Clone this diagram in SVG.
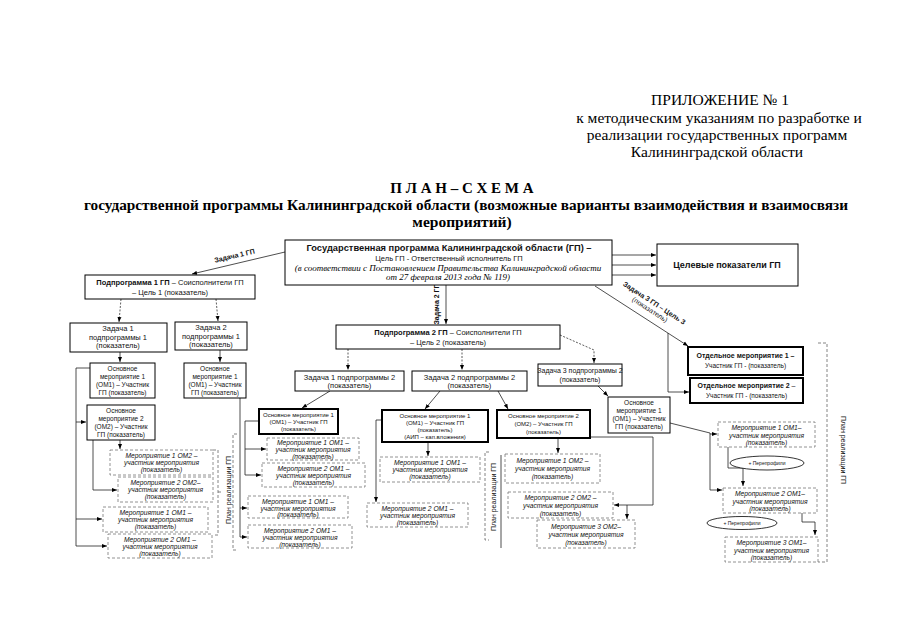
<svg xmlns="http://www.w3.org/2000/svg" width="905" height="640" viewBox="0 0 905 640">
<defs>
<marker id="a" viewBox="0 0 10 10" refX="10" refY="5" markerWidth="5" markerHeight="5" markerUnits="userSpaceOnUse" orient="auto"><path d="M0,1 L10,5 L0,9 z" fill="#000"/></marker>
<style>
.b{fill:#fff;stroke:#000;stroke-width:1}
.bt{fill:#fff;stroke:#000;stroke-width:2}
.bd{fill:#fff;stroke:#777;stroke-width:0.8;stroke-dasharray:3 2}
.s{font-family:"Liberation Sans",Arial,sans-serif;fill:#111;text-anchor:middle}
.f6{font-size:6px}
.f65{font-size:6.5px}
.f7{font-size:7px}
.f75{font-size:7.5px}
.it{font-style:italic;font-size:6.7px}
.bo{font-weight:bold}
.sr{font-family:"Liberation Serif","Times New Roman",serif;fill:#000;text-anchor:middle}
.c{fill:none;stroke:#222;stroke-width:0.8}
.cd{fill:none;stroke:#333;stroke-width:0.8;stroke-dasharray:2 1.5}
.br{fill:none;stroke:#666;stroke-width:0.8;stroke-dasharray:3 2}
</style>
</defs>
<rect width="905" height="640" fill="#fff"/>

<g id="header" class="sr" font-size="15.5">
<text x="720" y="105">ПРИЛОЖЕНИЕ № 1</text>
<text x="719" y="123">к методическим указаниям по разработке и</text>
<text x="717" y="140">реализации государственных программ</text>
<text x="717" y="157">Калининградской области</text>
</g>
<g id="title" class="sr" font-weight="bold">
<text x="462" y="193" font-size="15">П Л А Н – С Х Е М А</text>
<text x="466" y="210" font-size="15.5" textLength="764" lengthAdjust="spacingAndGlyphs">государственной программы Калининградской области (возможные варианты взаимодействия и взаимосвязи</text>
<text x="462" y="227" font-size="15.5">мероприятий)</text>
</g>

<g id="connectors">
<line class="c" x1="285" y1="252" x2="192" y2="274" marker-end="url(#a)"/>
<text class="s f7 bo" transform="translate(235,258) rotate(-13)">Задача 1 ГП</text>
<line class="c" x1="612" y1="255" x2="656" y2="255" marker-end="url(#a)"/>
<line class="c" x1="612" y1="265" x2="656" y2="265" marker-end="url(#a)"/>
<line class="c" x1="612" y1="275" x2="656" y2="275" marker-end="url(#a)"/>
<line class="c" x1="446" y1="285" x2="446" y2="324" marker-end="url(#a)"/>
<text class="s f7 bo" transform="translate(439,304) rotate(-90)">Задача 2 ГП</text>
<line class="c" x1="595" y1="286" x2="688" y2="346" marker-end="url(#a)"/>
<g transform="translate(653,305) rotate(33)"><text class="s f7 bo" x="0" y="0">Задача 3 ГП – Цель 3</text><text class="s f7" x="0" y="8">(показатель)</text></g>
<path class="c" d="M668 333 V392 H689" marker-end="url(#a)"/>
<line class="cd" x1="121" y1="299" x2="119" y2="322" marker-end="url(#a)"/>
<line class="cd" x1="216" y1="299" x2="218" y2="321" marker-end="url(#a)"/>
<line class="c" x1="120" y1="352" x2="120" y2="362" marker-end="url(#a)"/>
<line class="c" x1="220" y1="350" x2="220" y2="362" marker-end="url(#a)"/>
<path class="c" d="M90 368 H76 V546"/>
<line class="c" x1="76" y1="422" x2="86" y2="422" marker-end="url(#a)"/>
<line class="c" x1="76" y1="519" x2="102" y2="519" marker-end="url(#a)"/>
<line class="c" x1="76" y1="546" x2="107" y2="546" marker-end="url(#a)"/>
<line class="c" x1="120" y1="440" x2="120" y2="449" marker-end="url(#a)"/>
<path class="c" d="M93 440 V490 H117" marker-end="url(#a)"/>
<path class="c" d="M240 398 V537"/>
<line class="c" x1="240" y1="508" x2="247" y2="508" marker-end="url(#a)"/>
<line class="c" x1="240" y1="537" x2="247" y2="537" marker-end="url(#a)"/>
<line class="cd" x1="348" y1="349" x2="348" y2="370" marker-end="url(#a)"/>
<line class="cd" x1="462" y1="349" x2="462" y2="370" marker-end="url(#a)"/>
<path class="cd" d="M560 335 L594 350 V363" marker-end="url(#a)"/>
<line class="c" x1="330" y1="391" x2="302" y2="408" marker-end="url(#a)"/>
<path class="c" d="M259 421 H245 V475"/>
<line class="c" x1="245" y1="449" x2="266" y2="449" marker-end="url(#a)"/>
<line class="c" x1="245" y1="475" x2="261" y2="475" marker-end="url(#a)"/>
<line class="c" x1="440" y1="391" x2="425" y2="409" marker-end="url(#a)"/>
<line class="c" x1="428" y1="442" x2="428" y2="456" marker-end="url(#a)"/>
<path class="c" d="M382 420 H376 V502" marker-end="url(#a)"/>
<line class="c" x1="498" y1="391" x2="508" y2="409" marker-end="url(#a)"/>
<line class="c" x1="558" y1="438" x2="558" y2="453" marker-end="url(#a)"/>
<path class="c" d="M590 437 H653 V505 H614" marker-end="url(#a)"/>
<path class="c" d="M627 505 V519" marker-end="url(#a)"/>
<line class="c" x1="598" y1="386" x2="608" y2="396" marker-end="url(#a)"/>
<path class="c" d="M670 423 L710 433 V490"/>
<line class="c" x1="710" y1="434" x2="717" y2="434" marker-end="url(#a)"/>
<line class="c" x1="710" y1="490" x2="722" y2="490" marker-end="url(#a)"/>
<path class="c" d="M728 447 V468 H743 V486" marker-end="url(#a)"/>
<path class="c" d="M802 513 V522 H815 V535" marker-end="url(#a)"/>
<path class="br" d="M213 450 H218 V535 H213 M218 492 H222"/>
<path class="br" d="M237 434 H233 V550 H237"/>
<path class="br" d="M489 452 H485 V540 H489"/>
<line class="c" x1="501" y1="455" x2="501" y2="548"/>
<path class="br" d="M818 343 H827 V562 H818"/>
</g>

<g id="main"><rect class="b" x="285" y="240" width="327" height="45" stroke-width="1.3"/>
<text class="s bo" x="449" y="251" font-size="9.3">Государственная программа Калининградской области (ГП) –</text>
<text class="s" x="449" y="261" font-size="7.5">Цель ГП - Ответственный исполнитель ГП</text>
<text class="sr" x="448" y="271" font-size="9" font-style="italic">(в соответствии с Постановлением Правительства Калининградской области</text>
<text class="sr" x="448" y="280" font-size="9" font-style="italic">от 27 февраля 2013 года № 119)</text></g>

<g id="targets"><rect class="b" x="657" y="244" width="141" height="42"/>
<text class="s bo" x="727" y="268" font-size="9">Целевые показатели ГП</text></g>

<g id="podpr1"><rect class="b" x="85" y="275" width="170" height="24"/>
<text class="s f75" x="170" y="285"><tspan class="bo">Подпрограмма 1 ГП</tspan> – Соисполнители ГП</text>
<text class="s f75" x="170" y="295">– Цель 1 (показатель)</text></g>

<g id="zad1p1"><rect class="b" x="70" y="323" width="97" height="29"/>
<text class="s f75" x="118" y="331">Задача 1</text><text class="s f75" x="118" y="339.5">подпрограммы 1</text><text class="s f75" x="118" y="348">(показатель)</text></g>
<g id="zad2p1"><rect class="b" x="175" y="322" width="72" height="28"/>
<text class="s f75" x="211" y="330">Задача 2</text><text class="s f75" x="211" y="338.5">подпрограммы 1</text><text class="s f75" x="211" y="347">(показатель)</text></g>

<g id="om1l"><rect class="b" x="90" y="363" width="65" height="35"/>
<text class="s f65" x="122.5" y="371">Основное</text><text class="s f65" x="122.5" y="379">мероприятие 1</text><text class="s f65" x="122.5" y="387">(ОМ1) – Участник</text><text class="s f65" x="122.5" y="395">ГП (показатель)</text></g>
<g id="om2l"><rect class="b" x="87" y="405" width="68" height="35"/>
<text class="s f65" x="121" y="413">Основное</text><text class="s f65" x="121" y="421">мероприятие 2</text><text class="s f65" x="121" y="429">(ОМ2) – Участник</text><text class="s f65" x="121" y="437">ГП (показатель)</text></g>
<g id="om1r1"><rect class="b" x="184" y="363" width="62" height="35"/>
<text class="s f65" x="215" y="371">Основное</text><text class="s f65" x="215" y="379">мероприятие 1</text><text class="s f65" x="215" y="387">(ОМ1) – Участник</text><text class="s f65" x="215" y="395">ГП (показатель)</text></g>

<g id="lm1om2"><rect class="bd" x="110" y="450" width="103" height="25"/>
<text class="s it" x="161.5" y="458">Мероприятие 1 ОМ2 –</text><text class="s it" x="161.5" y="465">участник мероприятия</text><text class="s it" x="161.5" y="472">(показатель)</text></g>
<g id="lm2om2"><rect class="bd" x="118" y="477" width="95" height="25"/>
<text class="s it" x="165.5" y="485">Мероприятие 2 ОМ2–</text><text class="s it" x="165.5" y="492">участник мероприятия</text><text class="s it" x="165.5" y="499">(показатель)</text></g>
<g id="lm1om1"><rect class="bd" x="103" y="507" width="105" height="25"/>
<text class="s it" x="155.5" y="515">Мероприятие 1 ОМ1 –</text><text class="s it" x="155.5" y="522">участник мероприятия</text><text class="s it" x="155.5" y="529">(показатель)</text></g>
<g id="lm2om1"><rect class="bd" x="108" y="534" width="104" height="24"/>
<text class="s it" x="160" y="541.5">Мероприятие 2 ОМ1 –</text><text class="s it" x="160" y="548.5">участник мероприятия</text><text class="s it" x="160" y="555.5">(показатель)</text></g>
<g id="plan1"><text class="s f7" transform="translate(231,490) rotate(-90)">План реализации ГП</text></g>

<g id="podpr2"><rect class="b" x="336" y="325" width="224" height="24"/>
<text class="s f75" x="448" y="335"><tspan class="bo">Подпрограмма 2 ГП</tspan> – Соисполнители ГП</text>
<text class="s f75" x="448" y="345">– Цель 2 (показатель)</text></g>
<g id="zad1p2"><rect class="b" x="295" y="371" width="109" height="20"/>
<text class="s f75" x="349.5" y="379.5">Задача 1 подпрограммы 2</text><text class="s f75" x="349.5" y="388">(показатель)</text></g>
<g id="zad2p2"><rect class="b" x="412" y="371" width="115" height="20"/>
<text class="s f75" x="469.5" y="379.5">Задача 2 подпрограммы 2</text><text class="s f75" x="469.5" y="388">(показатель)</text></g>
<g id="zad3p2"><rect class="b" x="538" y="364" width="84" height="22"/>
<text class="s f7" x="580" y="373">Задача 3 подпрограммы 2</text><text class="s f7" x="580" y="382">(показатель)</text></g>

<g id="om1c"><rect class="bt" x="259" y="409" width="79" height="25"/>
<text class="s f6" x="298.5" y="417">Основное мероприятие 1</text><text class="s f6" x="298.5" y="424">(ОМ1) – Участник ГП</text><text class="s f6" x="298.5" y="431">(показатель)</text></g>
<g id="cm1om1"><rect class="bd" x="267" y="438" width="92" height="22"/>
<text class="s it" x="313" y="445">Мероприятие 1 ОМ1 –</text><text class="s it" x="313" y="452">участник мероприятия</text><text class="s it" x="313" y="459">(показатель)</text></g>
<g id="cm2om1"><rect class="bd" x="262" y="463" width="103" height="24"/>
<text class="s it" x="313.5" y="471">Мероприятие 2 ОМ1 –</text><text class="s it" x="313.5" y="478">участник мероприятия</text><text class="s it" x="313.5" y="485">(показатель)</text></g>
<g id="cm1om1b"><rect class="bd" x="248" y="496" width="100" height="22"/>
<text class="s it" x="298" y="503.5">Мероприятие 1 ОМ1 –</text><text class="s it" x="298" y="510.5">участник мероприятия</text><text class="s it" x="298" y="517">(показатель)</text></g>
<g id="cm2om1b"><rect class="bd" x="248" y="525" width="104" height="23"/>
<text class="s it" x="300" y="532.5">Мероприятие 2 ОМ1 –</text><text class="s it" x="300" y="539.5">участник мероприятия</text><text class="s it" x="300" y="546.5">(показатель)</text></g>

<g id="om1aip"><rect class="bt" x="382" y="410" width="106" height="32"/>
<text class="s f6" x="435" y="417.5">Основное мероприятие 1</text><text class="s f6" x="435" y="424.5">(ОМ1) – Участник ГП</text><text class="s f6" x="435" y="431.5">(показатель)</text><text class="s f6" x="435" y="438.5">(АИП – кап.вложения)</text></g>
<g id="rm1om1"><rect class="bd" x="380" y="457" width="100" height="25"/>
<text class="s it" x="430" y="465">Мероприятие 1 ОМ1 –</text><text class="s it" x="430" y="472">участник мероприятия</text><text class="s it" x="430" y="479">(показатель)</text></g>
<g id="rm2om1"><rect class="bd" x="367" y="503" width="101" height="24"/>
<text class="s it" x="417.5" y="511">Мероприятие 2 ОМ1 –</text><text class="s it" x="417.5" y="518">участник мероприятия</text><text class="s it" x="417.5" y="525">(показатель)</text></g>
<g id="plan2"><text class="s f7" transform="translate(496,497) rotate(-90)">План реализации ГП</text></g>

<g id="om2"><rect class="bt" x="497" y="410" width="93" height="28"/>
<text class="s f6" x="543.5" y="418">Основное мероприятие 2</text><text class="s f6" x="543.5" y="426">(ОМ2) – Участник ГП</text><text class="s f6" x="543.5" y="434">(показатель)</text></g>
<g id="m1om2"><rect class="bd" x="505" y="454" width="95" height="29"/>
<text class="s it" x="552.5" y="463">Мероприятие 1 ОМ2 –</text><text class="s it" x="552.5" y="471">участник мероприятия</text><text class="s it" x="552.5" y="479">(показатель)</text></g>
<g id="m2om2"><rect class="bd" x="508" y="492" width="105" height="26"/>
<text class="s it" x="560.5" y="500">Мероприятие 2 ОМ2 –</text><text class="s it" x="560.5" y="508">участник мероприятия</text><text class="s it" x="560.5" y="516">(показатель)</text></g>
<g id="m3om2"><rect class="bd" x="537" y="520" width="98" height="28"/>
<text class="s it" x="586" y="529">Мероприятие 3 ОМ2–</text><text class="s it" x="586" y="537">участник мероприятия</text><text class="s it" x="586" y="545">(показатель)</text></g>

<g id="om1z3"><rect class="b" x="608" y="397" width="62" height="36"/>
<text class="s f65" x="639" y="405">Основное</text><text class="s f65" x="639" y="413">мероприятие 1</text><text class="s f65" x="639" y="421">(ОМ1) – Участник</text><text class="s f65" x="639" y="429">ГП (показатель)</text></g>

<g id="otd1"><rect class="bt" x="688" y="347" width="115" height="28"/>
<text class="s f7 bo" x="745.5" y="358">Отдельное мероприятие 1 –</text><text class="s f65" x="745.5" y="368">Участник ГП - (показатель)</text></g>
<g id="otd2"><rect class="bt" x="690" y="378" width="113" height="25"/>
<text class="s f7" x="746.5" y="388"><tspan class="bo">Отдельное мероприятие 2</tspan> –</text><text class="s f65" x="746.5" y="398">Участник ГП - (показатель)</text></g>
<g id="rm1"><rect class="bd" x="718" y="422" width="97" height="25"/>
<text class="s it" x="766.5" y="430">Мероприятие 1 ОМ1–</text><text class="s it" x="766.5" y="437.5">участник мероприятия</text><text class="s it" x="766.5" y="445">(показатель)</text></g>
<g id="ov1"><ellipse cx="767" cy="463" rx="37" ry="7" fill="#fff" stroke="#000" stroke-width="0.8"/>
<text class="s" x="767" y="465" font-size="5">+ Перепрофили</text></g>
<g id="rm2"><rect class="bd" x="723" y="488" width="94" height="25"/>
<text class="s it" x="770" y="496">Мероприятие 2 ОМ1–</text><text class="s it" x="770" y="503.5">участник мероприятия</text><text class="s it" x="770" y="511">(показатель)</text></g>
<g id="ov2"><ellipse cx="742" cy="523" rx="35" ry="6.5" fill="#fff" stroke="#000" stroke-width="0.8"/>
<text class="s" x="742" y="525" font-size="5">+ Перепрофили</text></g>
<g id="rm3"><rect class="bd" x="725" y="537" width="93" height="25"/>
<text class="s it" x="771.5" y="545">Мероприятие 3 ОМ1–</text><text class="s it" x="771.5" y="552.5">участник мероприятия</text><text class="s it" x="771.5" y="560">(показатель)</text></g>
<g id="plan3"><text class="s f7" transform="translate(841,450) rotate(90)">План реализации ГП</text></g>
</svg>
